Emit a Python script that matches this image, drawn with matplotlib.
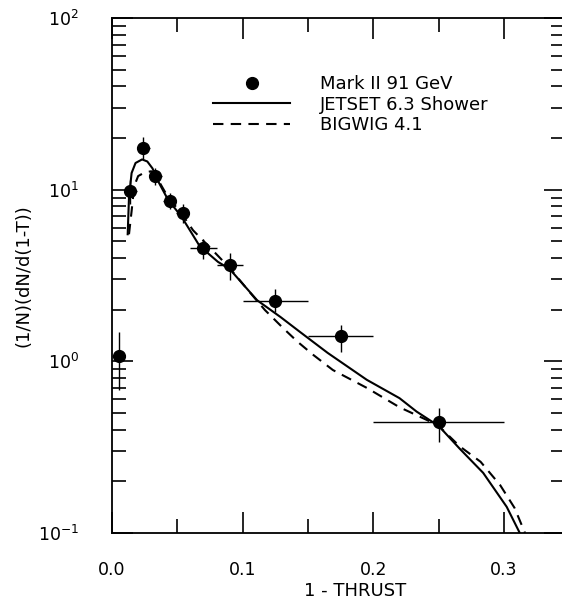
import matplotlib
matplotlib.use("Agg")
import matplotlib.pyplot as plt
from matplotlib.lines import Line2D
from matplotlib.ticker import MultipleLocator, LogLocator, NullFormatter
import numpy as np

plt.rcParams["font.family"] = ["DejaVu Sans"]
plt.rcParams["mathtext.default"] = "regular"

# Mark II 91 GeV data
data_x = [0.005, 0.014, 0.024, 0.033, 0.044, 0.054, 0.07, 0.09, 0.125, 0.175, 0.25]
data_y = [1.07, 9.8, 17.5, 12.0, 8.6, 7.3, 4.57, 3.64, 2.24, 1.40, 0.443]
data_xerr = [0.005, 0.005, 0.005, 0.005, 0.005, 0.005, 0.01, 0.01, 0.025, 0.025, 0.05]
data_yerr_lo = [0.39, 1.6, 2.5, 1.4, 0.9, 0.9, 0.6, 0.67, 0.30, 0.27, 0.104]
data_yerr_hi = [0.41, 1.6, 2.7, 1.4, 0.9, 0.9, 0.6, 0.63, 0.40, 0.23, 0.092]

# JETSET 6.3 Shower
jetset_x = [0.012, 0.013, 0.015, 0.018, 0.023, 0.027, 0.031, 0.035, 0.043, 0.053,
            0.067, 0.081, 0.09, 0.111, 0.129, 0.144, 0.165, 0.195, 0.22, 0.233,
            0.25, 0.266, 0.284, 0.302, 0.312]
jetset_y = [5.5, 9.0, 12.5, 14.3, 15.0, 14.6, 13.3, 11.3, 8.7, 7.0,
            4.7, 3.8, 3.45, 2.27, 1.81, 1.48, 1.12, 0.78, 0.61, 0.51,
            0.42, 0.31, 0.224, 0.142, 0.1]

# BIGWIG 4.1
bigwig_x = [0.013, 0.015, 0.017, 0.02, 0.025, 0.03, 0.035, 0.043, 0.053, 0.062,
            0.075, 0.09, 0.104, 0.117, 0.131, 0.142, 0.154, 0.169, 0.195, 0.22,
            0.241, 0.25, 0.266, 0.282, 0.297, 0.308, 0.316]
bigwig_y = [5.5, 7.5, 10.5, 12.0, 12.6, 12.8, 11.5, 9.0, 7.3, 5.8,
            4.6, 3.5, 2.6, 1.99, 1.56, 1.30, 1.09, 0.89, 0.70, 0.54,
            0.455, 0.42, 0.32, 0.26, 0.19, 0.14, 0.1]

W, H = 562, 606
fig = plt.figure(figsize=(W / 100, H / 100), dpi=100)
ax = fig.add_axes([112 / W, 1 - 533 / H, (565 - 112) / W, (533 - 18) / H])

ax.plot(jetset_x, jetset_y, color="black", lw=1.5)
ax.plot(bigwig_x, bigwig_y, color="black", lw=1.5, dashes=(5, 3.5))
ax.errorbar(data_x, data_y, xerr=data_xerr, yerr=[data_yerr_lo, data_yerr_hi],
            fmt="o", color="black", ms=8.5, elinewidth=1.0, capsize=0)

ax.set_yscale("log")
ax.set_ylim(0.1, 100)
ax.set_xlim(0.0, 0.3466)
ax.xaxis.set_major_locator(MultipleLocator(0.1))
ax.xaxis.set_minor_locator(MultipleLocator(0.05))
ax.xaxis.set_major_formatter(plt.FuncFormatter(lambda v, p: f"{v:.1f}"))
ax.yaxis.set_major_locator(LogLocator(base=10))
ax.yaxis.set_minor_locator(LogLocator(base=10, subs=np.arange(2, 10)))
ax.yaxis.set_minor_formatter(NullFormatter())

ax.tick_params(which="both", direction="in", top=True, right=True,
               labelsize=12.5, width=1.2)
ax.tick_params(which="major", length=15)
ax.tick_params(which="minor", length=10)
ax.tick_params(axis="y", which="major", pad=24)
ax.tick_params(axis="x", which="major", pad=20)
for sp in ax.spines.values():
    sp.set_linewidth(1.3)

ax.set_xlabel("1 - THRUST", fontsize=13)
ax.set_ylabel("(1/N)(dN/d(1-T))", fontsize=13)
ax.xaxis.set_label_coords((355 - 112) / 453, -0.095)
ax.yaxis.set_label_coords((33 - 112) / 453, 0.5)

handles = [
    Line2D([], [], marker="o", ls="none", color="black", ms=8.5),
    Line2D([], [], color="black", lw=1.5),
    Line2D([], [], color="black", lw=1.5, dashes=(5, 3.5)),
]
labels = ["Mark II 91 GeV", "JETSET 6.3 Shower", "BIGWIG 4.1"]
ax.legend(handles, labels, loc="upper left",
          bbox_to_anchor=((213 - 112) / 453, (533 - 75) / 515),
          frameon=False, fontsize=13, handlelength=4.27, handletextpad=1.67,
          borderpad=0, borderaxespad=0, labelspacing=0.15)

fig.savefig("out.png", dpi=100)
plt.close(fig)
